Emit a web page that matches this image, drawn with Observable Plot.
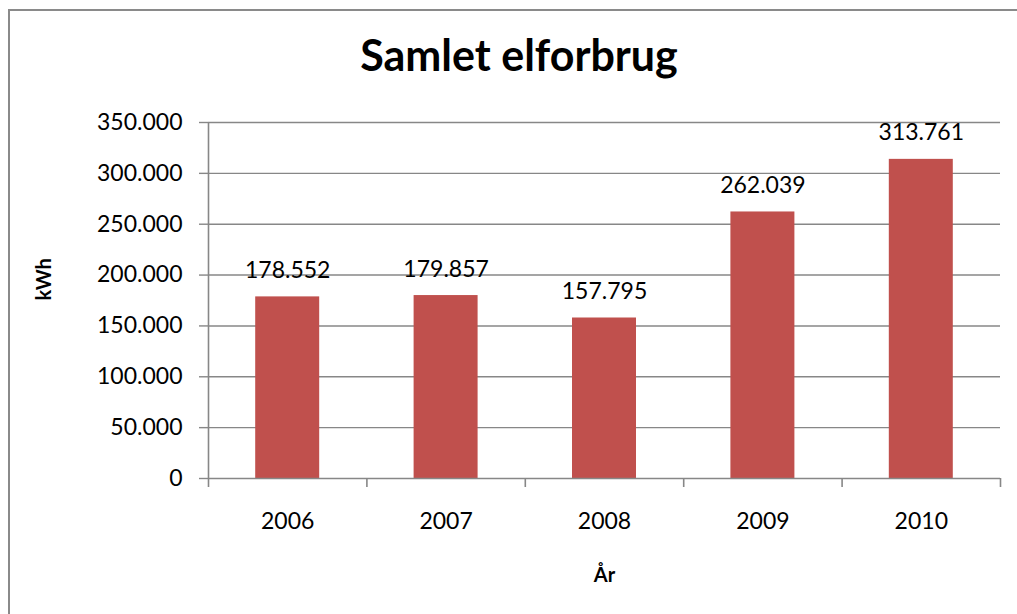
<!DOCTYPE html>
<html><head><meta charset="utf-8">
<script src="https://cdn.jsdelivr.net/npm/d3@7"></script>
<script src="https://cdn.jsdelivr.net/npm/@observablehq/plot@0.6"></script>
<style>
body{margin:0;background:#fff;}
#wrap{position:relative;width:1017px;height:614px;overflow:hidden;font-family:Lato,sans-serif;background:#fff;}
#frame{position:absolute;left:8px;top:9px;width:1100px;height:700px;border:2px solid #8a8a8a;box-sizing:border-box;pointer-events:none;}
#title{box-sizing:border-box;width:1017px;height:100px;padding-left:21px;padding-top:35px;text-align:center;font-size:43px;line-height:40px;font-weight:bold;color:#000;}
#chart svg{display:block;}
</style></head>
<body>
<div id="wrap">
<div id="title">Samlet elforbrug</div>
<div id="chart"></div>
<div id="frame"></div>
</div>
<script>
const years = [2006, 2007, 2008, 2009, 2010];
const values = [178552, 179857, 157795, 262039, 313761];
const yTicks = [0, 50000, 100000, 150000, 200000, 250000, 300000, 350000];
const boundaries = [2005.5, 2006.5, 2007.5, 2008.5, 2009.5, 2010.5];
const yLabel = "kWh";
const xLabel = "År";

const data = years.map((year, i) => ({year, value: values[i]}));
const loc = d3.formatLocale({decimal: ",", thousands: ".", grouping: [3], currency: ["", ""]});
const fmt = loc.format(",d");
const half = 0.202;
const grid = "#878787";

const chart = Plot.plot({
  width: 1017, height: 514,
  marginLeft: 208, marginRight: 17, marginTop: 22, marginBottom: 136,
  style: {fontFamily: "Lato, sans-serif", fontSize: "23px", color: "#000", background: "#fff", overflow: "visible"},
  x: {type: "linear", domain: [2005.5, 2010.5], label: null},
  y: {domain: [0, 350000], label: null},
  marks: [
    Plot.ruleY(yTicks.slice(1), {stroke: grid, strokeWidth: 1.4}),
    Plot.rectY(data, {x1: d => d.year - half, x2: d => d.year + half, y: "value", fill: "#C0504D"}),
    Plot.ruleY([0], {stroke: grid, strokeWidth: 1.6}),
    Plot.ruleX([2005.5], {y1: 0, y2: 350000, stroke: grid, strokeWidth: 1.6}),
    Plot.axisY({ticks: yTicks, tickSize: 9, tickPadding: 17, tickFormat: fmt, stroke: grid, strokeWidth: 1.4, fill: "#000", label: null}),
    Plot.axisX({ticks: boundaries, tickSize: 9, tickFormat: () => "", stroke: grid, strokeWidth: 1.6, label: null}),
    Plot.axisX({ticks: years, tickSize: 0, tickPadding: 34, tickFormat: d => String(d), fill: "#000", label: null}),
    Plot.text(data, {x: "year", y: "value", text: d => fmt(d.value), lineAnchor: "bottom", dy: -19, fill: "#000"}),
    Plot.text([yLabel], {frameAnchor: "left", dx: -164, rotate: -90, fontWeight: "bold", fontSize: 20, fill: "#000"}),
    Plot.text([xLabel], {frameAnchor: "bottom", dy: 103, lineAnchor: "bottom", fontWeight: "bold", fontSize: 20, fill: "#000"})
  ]
});
document.getElementById("chart").appendChild(chart);
</script>
</body></html>
